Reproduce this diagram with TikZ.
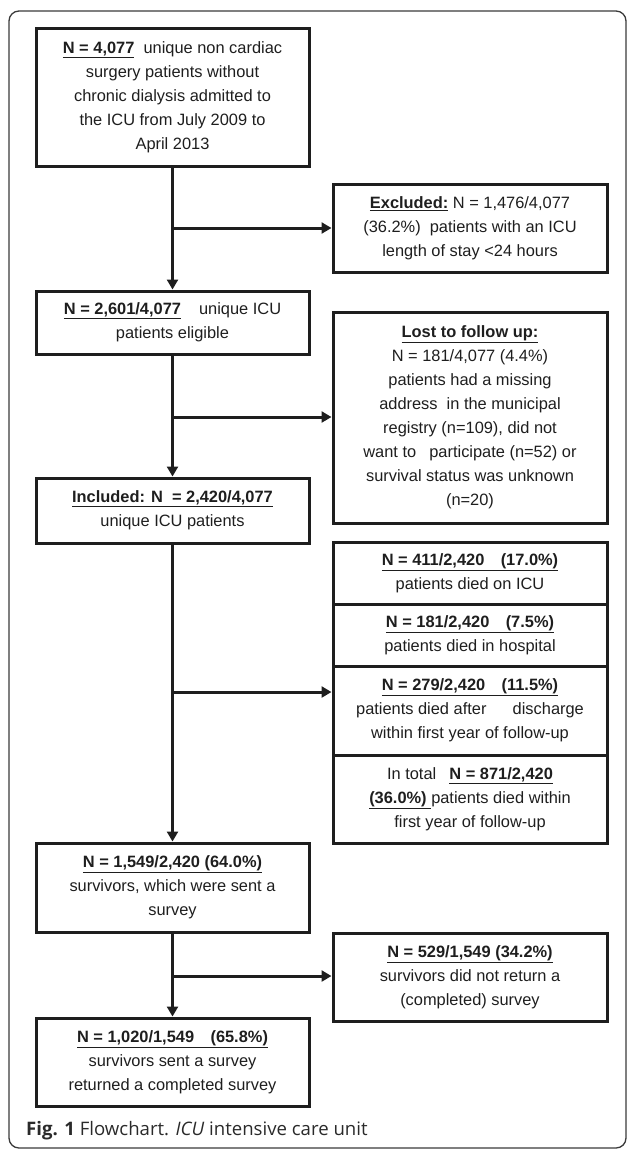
\documentclass[tikz,border=0pt]{standalone}
\usepackage{fontspec}
\setmainfont{Liberation Sans}
\newfontfamily\capfont{Open Sans}
\usetikzlibrary{arrows.meta}
\definecolor{ink}{HTML}{1E1E1E}
\definecolor{framecol}{HTML}{3A3A3A}
\definecolor{capcol}{HTML}{2A2A2A}
\newcommand{\ulb}[1]{\underline{\textbf{#1}}}
\begin{document}
\begin{tikzpicture}[x=1pt,y=-1pt,
  box/.style={draw=ink, line width=3pt, inner sep=0pt, align=center,
    font=\fontsize{16.4}{24}\selectfont, text=ink, minimum width=273pt},
  arr/.style={draw=ink, line width=3pt, -{Triangle[length=10pt,width=11pt]}}]
\useasboundingbox (0,0) rectangle (629,1151);
% outer frame
\draw[framecol, line width=1.3pt, rounded corners=10pt] (9,11) rectangle (626,1148);

% left column
\node[box, minimum height=138pt] (b1) at (172.5,97)
  {\ulb{N =\ 4,077}\ \ unique non cardiac\\surgery patients without\\chronic dialysis admitted to\\the ICU from July 2009 to\\April 2013};
\node[box, minimum height=63pt] (b2) at (172.5,322.5)
  {\ulb{N = 2,601/4,077}\hspace{1.1em}unique ICU\\patients eligible};
\node[box, minimum height=65pt] (b3) at (172.5,510.5)
  {\ulb{Included: N\ \ = 2,420/4,077}\\unique ICU patients};
\node[box, minimum height=89pt] (b4) at (172.5,887.5)
  {\ulb{N = 1,549/2,420 (64.0\%)}\\survivors, which were sent a\\survey};
\node[box, minimum height=88pt] (b5) at (172.5,1062)
  {\ulb{N = 1,020/1,549\hspace{1em}(65.8\%)}\\survivors sent a survey\\returned a completed survey};

% right column
\node[box, minimum width=274pt, minimum height=88pt] (ex) at (470,228)
  {\ulb{Excluded:} N = 1,476/4,077\\(36.2\%)\ \ patients with an ICU\\length of stay <24 hours};
\node[box, minimum width=274pt, minimum height=211pt] (lost) at (470,417.5)
  {\ulb{Lost to follow up:}\\N = 181/4,077 (4.4\%)\\patients had a missing\\address\ \ in the municipal\\registry (n=109), did not\\want to\hspace{0.8em}participate (n=52) or\\survival status was unknown\\(n=20)};
\node[box, minimum width=274pt, minimum height=62pt] (sa) at (470,573)
  {\ulb{N = 411/2,420\hspace{1em}(17.0\%)}\\patients died on ICU};
\node[box, minimum width=274pt, minimum height=62pt] (sb) at (470,635)
  {\ulb{N = 181/2,420\hspace{1em}(7.5\%)}\\patients died in hospital};
\node[box, minimum width=274pt, minimum height=89pt] (sc) at (470,710.5)
  {\ulb{N = 279/2,420\hspace{1em}(11.5\%)}\\patients died after\hspace{1.6em}discharge\\within first year of follow-up};
\node[box, minimum width=274pt, minimum height=88pt] (sd) at (470,799)
  {In total\hspace{0.8em}\ulb{N = 871/2,420}\\\ulb{(36.0\%)\ }patients died within\\first year of follow-up};
\node[box, minimum width=274pt, minimum height=88pt] (nr) at (470,977)
  {\ulb{N = 529/1,549 (34.2\%)}\\survivors did not return a\\(completed) survey};

% caption
\node[anchor=west, inner sep=0pt, text=capcol, font=\capfont\fontsize{18.6}{22}\selectfont] (cap) at (26,1131)
  {\textbf{Fig. 1} Flowchart. \textit{ICU} intensive care unit};

% connectors
\coordinate (j1) at (172.5,228);
\coordinate (j2) at (172.5,417);
\coordinate (j3) at (172.5,692);
\coordinate (j4) at (172.5,976);
\draw[arr] (b1.south) -- (b2.north);
\draw[arr] (j1) -- (j1 -| ex.west);
\draw[arr] (b2.south) -- (b3.north);
\draw[arr] (j2) -- (j2 -| lost.west);
\draw[arr] (b3.south) -- (b4.north);
\draw[arr] (j3) -- (j3 -| sc.west);
\draw[arr] (b4.south) -- (b5.north);
\draw[arr] (j4) -- (j4 -| nr.west);
\end{tikzpicture}
\end{document}
